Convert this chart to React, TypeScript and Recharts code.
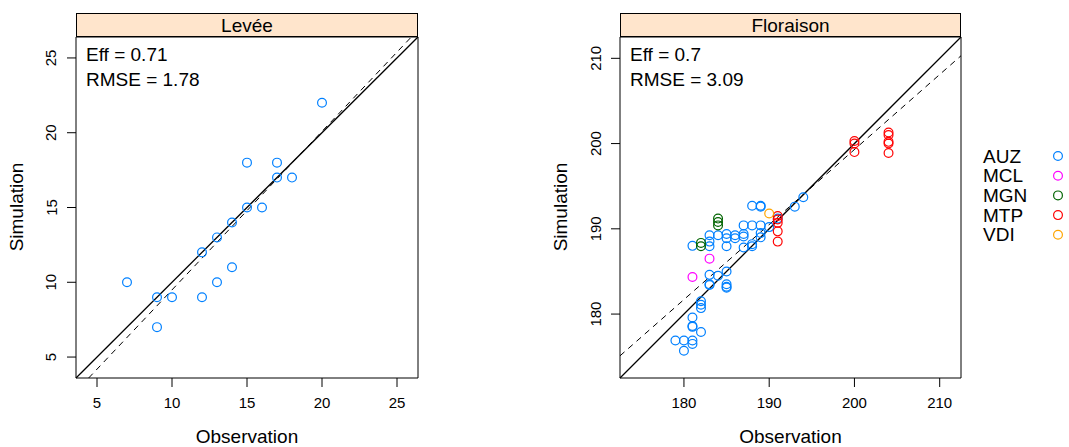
import React from 'react'
import { ScatterChart, Scatter, XAxis, YAxis, ReferenceLine, ReferenceArea } from 'recharts'

// Levée: observed vs simulated (all AUZ)
const LEVEE_OBS = [7, 9, 10, 12, 9, 13, 14, 12, 13, 14, 15, 16, 15, 17, 17, 18, 20]
const LEVEE_SIM = [10, 9, 9, 9, 7, 10, 11, 12, 13, 14, 15, 15, 18, 18, 17, 17, 22]

// Floraison by site
const AUZ_OBS = [179, 180, 180, 181, 181, 182, 181, 181, 181, 182, 182, 182, 183, 183, 183, 184, 185, 185, 185, 185,
  181, 183, 183, 183, 184, 185, 185, 185, 186, 186, 187, 187, 187, 187, 188, 188, 188, 188, 189, 189, 189, 189, 189,
  190, 191, 193, 194]
const AUZ_SIM = [176.9, 176.9, 175.7, 176.9, 176.5, 177.9, 178.6, 178.5, 179.6, 181.5, 181.1, 180.7, 183.4, 183.5, 184.6, 184.5, 185.0, 183.5, 183.2, 183.1,
  188.0, 189.25, 188.5, 187.95, 189.25, 189.4, 188.9, 187.95, 189.25, 188.9, 190.4, 189.4, 189.1, 187.8, 190.4, 192.7, 187.95, 188.2, 192.7, 192.6, 190.4, 189.5, 189.0,
  190.2, 191.2, 192.6, 193.7]
const MCL_OBS = [181, 183]
const MCL_SIM = [184.35, 186.5]
const MGN_OBS = [182, 182, 184, 184, 184]
const MGN_SIM = [188.35, 187.95, 191.2, 190.8, 190.4]
const MTP_OBS = [191, 191, 191, 191, 191, 200, 200, 200, 204, 204, 204, 204, 204]
const MTP_SIM = [191.5, 191.1, 190.7, 189.7, 188.5, 200.3, 200.0, 199.0, 201.3, 201.0, 200.2, 200.0, 198.9]
const VDI_OBS = [190]
const VDI_SIM = [191.8]

const SITES = ['AUZ', 'MCL', 'MGN', 'MTP', 'VDI']
const SITE_COLORS = ['#0080ff', '#ff00ff', '#006400', '#ff0000', '#ffa500']

const LEVEE_TICKS = [5, 10, 15, 20, 25]
const FLOR_TICKS = [180, 190, 200, 210]
const LEVEE_DOMAIN: [number, number] = [3.6, 26.4]
const FLOR_DOMAIN: [number, number] = [172.5, 212.5]

// dashed regression lines (intercept, slope)
const LEVEE_REG = { a: -1.11, b: 1.06 }
const FLOR_REG = { a: 23.3, b: 0.88 }

const FONT = '"Liberation Sans", Arial, Helvetica, sans-serif'

const zip = (obs: number[], sim: number[]) => obs.map((o, i) => ({ obs: o, sim: sim[i] }))

// clip y = a + b x to the square panel
function clipLine(a: number, b: number, [lo, hi]: [number, number]) {
  const x1 = Math.max(lo, (lo - a) / b)
  const x2 = Math.min(hi, (hi - a) / b)
  return [{ x: x1, y: a + b * x1 }, { x: x2, y: a + b * x2 }]
}

const circle = (color: string) => (p: any) => (
  <circle cx={p.cx} cy={p.cy} r={4.4} fill="none" stroke={color} strokeWidth={1.2} />
)

const XTick = (p: any) => (
  <text x={p.x} y={p.y + 13} textAnchor="middle" dominantBaseline="central" fontSize={15} fill="#000" fontFamily={FONT}>
    {p.payload.value}
  </text>
)

const YTick = (p: any) => (
  <text x={p.x - 14} y={p.y} textAnchor="middle" dominantBaseline="central" fontSize={15} fill="#000" fontFamily={FONT}
    transform={`rotate(-90 ${p.x - 14} ${p.y})`}>
    {p.payload.value}
  </text>
)

interface Series { name: string; color: string; data: { obs: number; sim: number }[] }

function Panel({ left, width, marginLeft, marginRight, title, eff, rmse, domain, ticks, series, reg }: {
  left: number; width: number; marginLeft: number; marginRight: number; title: string; eff: string; rmse: string
  domain: [number, number]; ticks: number[]; series: Series[]; reg: { a: number; b: number }
}) {
  const plotLeft = left + marginLeft + 47
  const plotRight = left + width - marginRight
  return (
    <>
      <div style={{ position: 'absolute', left, top: 0 }}>
        <ScatterChart width={width} height={447} margin={{ top: 37, right: marginRight, bottom: 29, left: marginLeft }}>
          <XAxis type="number" dataKey="obs" domain={domain} ticks={ticks} allowDataOverflow
            axisLine={false} tickSize={9} tickLine={{ stroke: '#000' }} tick={<XTick />} height={40} />
          <YAxis type="number" dataKey="sim" domain={domain} ticks={ticks} allowDataOverflow
            axisLine={false} tickSize={9} tickLine={{ stroke: '#000' }} tick={<YTick />} width={47} />
          {series.map(s => (
            <Scatter key={s.name} name={s.name} data={s.data} shape={circle(s.color)} isAnimationActive={false} />
          ))}
          <ReferenceLine segment={clipLine(0, 1, domain)} stroke="#000" strokeWidth={1.3} />
          <ReferenceLine segment={clipLine(reg.a, reg.b, domain)} stroke="#000" strokeWidth={1} strokeDasharray="6 5" />
          <ReferenceArea x1={domain[0]} x2={domain[1]} y1={domain[0]} y2={domain[1]} fill="none" stroke="#000" strokeWidth={1} />
        </ScatterChart>
      </div>
      <div style={{
        position: 'absolute', left: plotLeft, top: 13, width: plotRight - plotLeft, height: 24, boxSizing: 'border-box',
        background: '#ffe5cc', border: '1px solid #000', textAlign: 'center', fontSize: 19, lineHeight: '23px',
      }}>{title}</div>
      <div style={{ position: 'absolute', left: plotLeft + 10, top: 42, fontSize: 19, lineHeight: '25px' }}>
        <div>{eff}</div>
        <div>{rmse}</div>
      </div>
      <div style={{
        position: 'absolute', left: plotLeft, width: plotRight - plotLeft, top: 425, textAlign: 'center', fontSize: 19,
        lineHeight: '24px',
      }}>Observation</div>
      <div style={{
        position: 'absolute', left: plotLeft - 110 - 59, top: 195, width: 220, textAlign: 'center', fontSize: 19,
        lineHeight: '24px', transform: 'rotate(-90deg)',
      }}>Simulation</div>
    </>
  )
}

export default function App() {
  const leveeSeries: Series[] = [{ name: 'AUZ', color: SITE_COLORS[0], data: zip(LEVEE_OBS, LEVEE_SIM) }]
  const florObs = [AUZ_OBS, MCL_OBS, MGN_OBS, MTP_OBS, VDI_OBS]
  const florSim = [AUZ_SIM, MCL_SIM, MGN_SIM, MTP_SIM, VDI_SIM]
  const florSeries: Series[] = SITES.map((s, i) => ({ name: s, color: SITE_COLORS[i], data: zip(florObs[i], florSim[i]) }))

  return (
    <div style={{ position: 'absolute', left: 0, top: 0, width: 1069, height: 447, background: '#fff', fontFamily: FONT, color: '#000' }}>
      <Panel left={0} width={430} marginLeft={29} marginRight={12} title="Levée" eff="Eff = 0.71" rmse="RMSE = 1.78"
        domain={LEVEE_DOMAIN} ticks={LEVEE_TICKS} series={leveeSeries} reg={LEVEE_REG} />
      <Panel left={540} width={440} marginLeft={33} marginRight={19} title="Floraison" eff="Eff = 0.7" rmse="RMSE = 3.09"
        domain={FLOR_DOMAIN} ticks={FLOR_TICKS} series={florSeries} reg={FLOR_REG} />
      <svg style={{ position: 'absolute', left: 975, top: 140 }} width={94} height={110}>
        {SITES.map((s, i) => (
          <g key={s}>
            <text x={8} y={16 + i * 19.7} dominantBaseline="central" fontSize={19} fontFamily={FONT} fill="#000">{s}</text>
            <circle cx={83} cy={16 + i * 19.7} r={4.4} fill="none" stroke={SITE_COLORS[i]} strokeWidth={1.2} />
          </g>
        ))}
      </svg>
    </div>
  )
}
